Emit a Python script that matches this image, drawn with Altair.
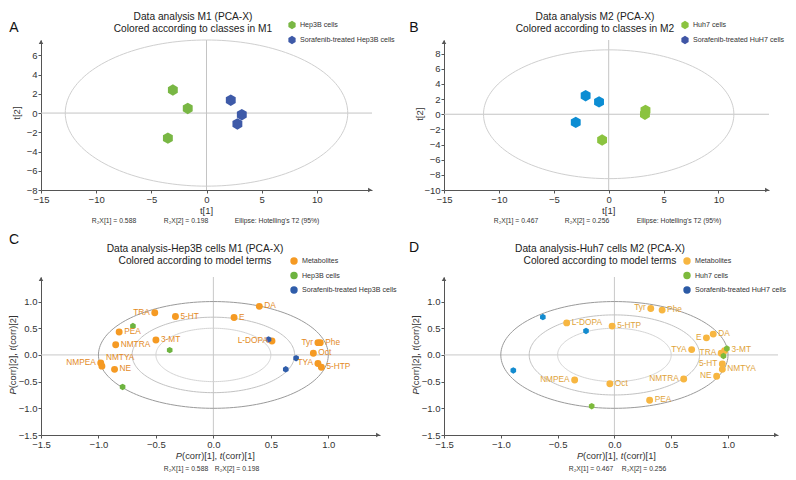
import altair as alt
import pandas as pd

FONT = "Liberation Sans"
AXIS_C = "#555555"
TXT = "#333333"
TITLE_C = "#222222"
HEX = "M0,-1L0.866,-0.5L0.866,0.5L0,1L-0.866,0.5L-0.866,-0.5Z"

# ---------------- data ----------------
score_xticks = [-15, -10, -5, 0, 5, 10]
A_yticks = [-8, -6, -4, -2, 0, 2, 4, 6]
B_yticks = [-10, -8, -6, -4, -2, 0, 2, 4, 6, 8]
load_ticks = [-1.5, -1.0, -0.5, 0.0, 0.5, 1.0]

# Panel A: scores M1
A_hep3b_t1 = [-3.05, -1.70, -3.50]
A_hep3b_t2 = [2.40, 0.48, -2.60]
A_sora_t1 = [2.20, 3.20, 2.80]
A_sora_t2 = [1.34, -0.17, -1.13]
A_ellipse = [12.8, 7.6]
A_legend = ["Hep3B cells", "Sorafenib-treated Hep3B cells"]
A_footer = ["R\u2082X[1] = 0.588", "R\u2082X[2] = 0.198", "Ellipse: Hotelling's T2 (95%)"]

# Panel B: scores M2
B_huh7_t1 = [3.35, 3.30, -0.60]
B_huh7_t2 = [0.50, 0.00, -3.40]
B_sora_t1 = [-2.10, -0.88, -3.00]
B_sora_t2 = [2.45, 1.63, -1.07]
B_ellipse = [11.4, 8.5]
B_legend = ["Huh7 cells", "Sorafenib-treated HuH7 cells"]
B_footer = ["R\u2082X[1] = 0.467", "R\u2082X[2] = 0.256", "Ellipse: Hotelling's T2 (95%)"]

# Panel C: loadings Hep3B M1
C_names = ["DA", "E", "TRA", "5-HT", "PEA", "3-MT", "NMTRA", "NMPEA", "NMTYA", "NE",
           "L-DOPA", "Tyr", "Phe", "Oct", "TYA", "5-HTP"]
C_p1 = [0.40, 0.18, -0.51, -0.33, -0.82, -0.50, -0.85, -0.98, -0.97, -0.86,
        0.51, 0.91, 0.93, 0.87, 0.91, 0.94]
C_p2 = [0.91, 0.70, 0.79, 0.72, 0.43, 0.28, 0.19, -0.15, -0.21, -0.27,
        0.26, 0.23, 0.23, 0.03, -0.16, -0.23]
C_hep3b_p1 = [-0.70, -0.38, -0.79]
C_hep3b_p2 = [0.54, 0.09, -0.60]
C_sora_p1 = [0.48, 0.72, 0.63]
C_sora_p2 = [0.29, -0.06, -0.27]
C_radii = [1.0, 0.707, 0.5]
C_legend = ["Metabolites", "Hep3B cells", "Sorafenib-treated Hep3B cells"]
C_footer = ["R\u2082X[1] = 0.588", "R\u2082X[2] = 0.198"]

# Panel D: loadings Huh7 M2
D_names = ["Tyr", "Phe", "L-DOPA", "5-HTP", "DA", "E", "TYA", "TRA", "3-MT", "5-HT",
           "NMTYA", "NE", "NMTRA", "NMPEA", "Oct", "PEA"]
D_p1 = [0.32, 0.42, -0.42, -0.02, 0.87, 0.81, 0.68, 0.94, 0.97, 0.95,
        0.95, 0.90, 0.61, -0.35, -0.04, 0.31]
D_p2 = [0.87, 0.84, 0.60, 0.54, 0.39, 0.32, 0.10, 0.03, 0.08, -0.17,
        -0.27, -0.40, -0.45, -0.47, -0.54, -0.85]
D_huh7_p1 = [0.99, 0.96, -0.20]
D_huh7_p2 = [0.12, -0.02, -0.96]
D_sora_p1 = [-0.63, -0.25, -0.89]
D_sora_p2 = [0.71, 0.45, -0.29]
D_radii = [1.0, 0.75, 0.5]
D_legend = ["Metabolites", "Huh7 cells", "Sorafenib-treated HuH7 cells"]
D_footer = ["R\u2082X[1] = 0.467", "R\u2082X[2] = 0.256"]

# label placement (style): side, dx, dy
C_label_style = {
    "DA": ("left", 5, 0), "E": ("left", 5, 0), "TRA": ("right", -5, 0), "5-HT": ("left", 5, 0),
    "PEA": ("left", 5, 0), "3-MT": ("left", 5, 0), "NMTRA": ("left", 5, 0),
    "NMPEA": ("right", -5, 0), "NMTYA": ("left", 4, -8), "NE": ("left", 5, 0),
    "L-DOPA": ("right", -4, 0), "Tyr": ("right", -5, 0), "Phe": ("left", 5, 0),
    "Oct": ("left", 5, 0), "TYA": ("right", -5, 0), "5-HTP": ("left", 5, 0),
}
D_label_style = {
    "Tyr": ("right", -5, 0), "Phe": ("left", 5, 0), "L-DOPA": ("left", 5, 0),
    "5-HTP": ("left", 5, 0), "DA": ("left", 5, 0), "E": ("right", -5, 0),
    "TYA": ("right", -5, 0), "TRA": ("right", -5, 0), "3-MT": ("left", 7, -1),
    "5-HT": ("right", -5, 0), "NMTYA": ("left", 5, 0), "NE": ("right", -5, 0),
    "NMTRA": ("right", -5, 0), "NMPEA": ("right", -5, 0), "Oct": ("left", 5, 0),
    "PEA": ("left", 5, 0),
}


def one():
    return pd.DataFrame({"k": [0]})


def txt(s, x, y, size, color=TXT, align="center", angle=0, italic=False, dx=0):
    return alt.Chart(one()).mark_text(
        text=s, align=align, baseline="middle", fontSize=size, font=FONT, color=color,
        angle=angle, dx=dx, fontStyle="italic" if italic else "normal"
    ).encode(x=alt.value(x), y=alt.value(y))


def make_axis(vals, fmt):
    return alt.Axis(values=vals, format=fmt, title=None, grid=False, domainColor=AXIS_C,
                    tickColor=AXIS_C, labelColor=TXT, labelFont=FONT, labelFontSize=9.5,
                    tickSize=3, labelPadding=1, labelFlush=False, labelOverlap=False,
                    domainWidth=1, tickWidth=1)


def frame_layers(xs, ys, xa, ya, W, H, cross_color):
    L = []
    L.append(alt.Chart(pd.DataFrame({"v": [0]})).mark_rule(color=cross_color, strokeWidth=1)
             .encode(x=alt.X("v:Q", scale=xs, axis=xa)))
    L.append(alt.Chart(pd.DataFrame({"v": [0]})).mark_rule(color=cross_color, strokeWidth=1)
             .encode(y=alt.Y("v:Q", scale=ys, axis=ya)))
    return L


def arrows(W, H):
    return [
        alt.Chart(one()).mark_point(shape="triangle-up", filled=True, size=20, color=AXIS_C, opacity=1)
        .encode(x=alt.value(0), y=alt.value(2)),
        alt.Chart(one()).mark_point(shape="triangle-right", filled=True, size=20, color=AXIS_C, opacity=1)
        .encode(x=alt.value(W - 2), y=alt.value(H)),
    ]


def ellipse(a, b, xs, ys, xa, ya, color):
    return (alt.Chart(alt.sequence(0, 361, 2, as_="deg"))
            .transform_calculate(ex=f"{a}*cos(datum.deg*PI/180)", ey=f"{b}*sin(datum.deg*PI/180)")
            .mark_line(color=color, strokeWidth=1)
            .encode(x=alt.X("ex:Q", scale=xs, axis=xa), y=alt.Y("ey:Q", scale=ys, axis=ya),
                    order=alt.Order("deg:Q")))


def scores_panel(letter, letter_x, titles, title_cx, xdom, ydom, yticks, W, H, ell, groups,
                 legend_labels, legend_colors, legend_x, footers, footer_xs):
    xs = alt.Scale(domain=xdom, nice=False, zero=False)
    ys = alt.Scale(domain=ydom, nice=False, zero=False)
    xa = make_axis(score_xticks, "d")
    ya = make_axis(yticks, "d")
    L = frame_layers(xs, ys, xa, ya, W, H, "#c4c4c4")
    L.append(ellipse(ell[0], ell[1], xs, ys, xa, ya, "#cfcfcf"))
    for t1, t2, col in groups:
        L.append(alt.Chart(pd.DataFrame({"t1": t1, "t2": t2}))
                 .mark_point(shape=HEX, filled=True, size=130, color=col, opacity=1, strokeWidth=0)
                 .encode(x=alt.X("t1:Q", scale=xs, axis=xa), y=alt.Y("t2:Q", scale=ys, axis=ya)))
    L += arrows(W, H)
    px0 = (0 - xdom[0]) / (xdom[1] - xdom[0]) * W
    py0 = (ydom[1] - 0) / (ydom[1] - ydom[0]) * H
    L.append(txt("t[1]", px0, H + 21, 9.5))
    L.append(txt("t[2]", -24, py0, 9.5, angle=270))
    L.append(txt(titles[0], title_cx, -23, 10.2, color=TITLE_C))
    L.append(txt(titles[1], title_cx, -11, 10.2, color=TITLE_C))
    L.append(txt(letter, letter_x, -12, 14, color="#111111"))
    for i, (lab, col) in enumerate(zip(legend_labels, legend_colors)):
        ly = -15 + 15 * i
        L.append(alt.Chart(one()).mark_point(shape=HEX, filled=True, size=70, color=col, opacity=1)
                 .encode(x=alt.value(legend_x), y=alt.value(ly)))
        L.append(txt(lab, legend_x + 8, ly, 7.1, align="left"))
    for s, fx in zip(footers, footer_xs):
        L.append(txt(s, fx, H + 31, 6.8))
    return alt.layer(*L).properties(width=W, height=H)


def corr_title(num, cx, cy, vertical, size=9.3):
    pieces = [("P", True, 0.667), ("(corr)[%d]," % num, False, 4.056),
              ("t", True, 0.278), ("(corr)[%d]" % num, False, 3.5)]
    total = sum(p[2] for p in pieces) * size
    off = -total / 2
    out = []
    for s, it, w in pieces:
        out.append(txt(s, cx, cy, size, align="left", angle=270 if vertical else 0,
                       italic=it, dx=off))
        off += w * size
    return out


def loadings_panel(letter, letter_xy, titles, title_cx, xdom, ydom, W, H, radii,
                   names, p1, p2, met_color, lab_color, label_style, cells,
                   legend_labels, legend_colors, legend_x, footers, footer_xs):
    xs = alt.Scale(domain=xdom, nice=False, zero=False)
    ys = alt.Scale(domain=ydom, nice=False, zero=False)
    xa = make_axis(load_ticks, ".1f")
    ya = make_axis(load_ticks, ".1f")
    L = frame_layers(xs, ys, xa, ya, W, H, "#c8c8c8")
    ring_colors = ["#9a9a9a", "#c2c2c2", "#d4d4d4"]
    for r, rc in zip(radii, ring_colors):
        L.append(ellipse(r, r, xs, ys, xa, ya, rc))
    met = pd.DataFrame({"name": names, "p1": p1, "p2": p2})
    L.append(alt.Chart(met).mark_circle(size=48, color=met_color, opacity=1)
             .encode(x=alt.X("p1:Q", scale=xs, axis=xa), y=alt.Y("p2:Q", scale=ys, axis=ya)))
    for x1, x2, col in cells:
        L.append(alt.Chart(pd.DataFrame({"p1": x1, "p2": x2}))
                 .mark_point(shape=HEX, filled=True, size=42, color=col, opacity=1, strokeWidth=0)
                 .encode(x=alt.X("p1:Q", scale=xs, axis=xa), y=alt.Y("p2:Q", scale=ys, axis=ya)))
    for n, a, b in zip(names, p1, p2):
        al, dx, dy = label_style[n]
        L.append(alt.Chart(pd.DataFrame({"name": [n], "p1": [a], "p2": [b]}))
                 .mark_text(align=al, baseline="middle", dx=dx, dy=dy, fontSize=8.3, font=FONT,
                            color=lab_color)
                 .encode(x=alt.X("p1:Q", scale=xs, axis=xa), y=alt.Y("p2:Q", scale=ys, axis=ya),
                         text="name:N"))
    L += arrows(W, H)
    px0 = (0 - xdom[0]) / (xdom[1] - xdom[0]) * W
    py0 = (ydom[1] - 0) / (ydom[1] - ydom[0]) * H
    L += corr_title(1, px0 + 2, H + 21, False)
    L += corr_title(2, -28, py0, True)
    L.append(txt(titles[0], title_cx, -28, 10.2, color=TITLE_C))
    L.append(txt(titles[1], title_cx, -16, 10.2, color=TITLE_C))
    L.append(txt(letter, letter_xy[0], letter_xy[1], 14, color="#111111"))
    for i, (lab, col) in enumerate(zip(legend_labels, legend_colors)):
        ly = -16 + 14.5 * i
        L.append(alt.Chart(one()).mark_circle(size=55, color=col, opacity=1)
                 .encode(x=alt.value(legend_x), y=alt.value(ly)))
        L.append(txt(lab, legend_x + 8, ly, 7.1, align="left"))
    for s, fx in zip(footers, footer_xs):
        L.append(txt(s, fx, H + 34, 6.8))
    return alt.layer(*L).properties(width=W, height=H)


pA = scores_panel("A", -27, ["Data analysis M1 (PCA-X)", "Colored according to classes in M1"], 152,
                  [-15, 15], [-8, 7.6], A_yticks, 331, 150, A_ellipse,
                  [(A_hep3b_t1, A_hep3b_t2, "#79b744"), (A_sora_t1, A_sora_t2, "#3e5aa8")],
                  A_legend, ["#79b744", "#3e5aa8"], 251, A_footer, [73, 145, 236])

pB = scores_panel("B", -30, ["Data analysis M2 (PCA-X)", "Colored according to classes in M2"], 151,
                  [-15, 14.6], [-10, 9.8], B_yticks, 325, 150, B_ellipse,
                  [(B_huh7_t1, B_huh7_t2, "#8bc33f"), (B_sora_t1, B_sora_t2, "#0c8dd3")],
                  B_legend, ["#8bc33f", "#3f55a5"], 241, B_footer, [72, 143, 235])

pC = loadings_panel("C", (-27, -37), ["Data analysis-Hep3B cells M1 (PCA-X)", "Colored according to model terms"], 154,
                    [-1.5, 1.45], [-1.5, 1.46], 339, 158, C_radii,
                    C_names, C_p1, C_p2, "#f59a23", "#e38a25", C_label_style,
                    [(C_hep3b_p1, C_hep3b_p2, "#6db33f"), (C_sora_p1, C_sora_p2, "#2f5daa")],
                    C_legend, ["#f59a23", "#6db33f", "#2f5daa"], 253, C_footer, [145, 196])

pD = loadings_panel("D", (-30, -29), ["Data analysis-Huh7 cells M2 (PCA-X)", "Colored according to model terms"], 156,
                    [-1.5, 1.44], [-1.5, 1.46], 334, 158, D_radii,
                    D_names, D_p1, D_p2, "#f7b641", "#e0a33a", D_label_style,
                    [(D_huh7_p1, D_huh7_p2, "#7dba3c"), (D_sora_p1, D_sora_p2, "#138bcf")],
                    D_legend, ["#f7b641", "#7dba3c", "#2c5aa5"], 243, D_footer, [147, 200])

chart = (alt.concat(pA, pB, pC, pD, columns=2, spacing={"row": 87, "column": 64}, bounds="flush")
         .properties(padding={"top": 4, "left": 0, "right": 0, "bottom": 0}, background="white")
         .configure_view(stroke=None))

chart.save("out.html", embed_options={"renderer": "svg", "actions": False})
